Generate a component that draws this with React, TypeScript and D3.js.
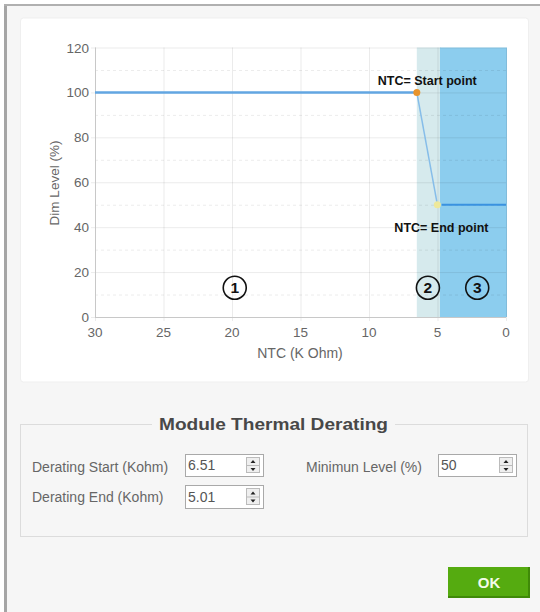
import React from 'react'
import * as d3 from 'd3'

// chart data
const ntcTicks = [30, 25, 20, 15, 10, 5, 0]
const levelTicks = [0, 20, 40, 60, 80, 100, 120]
const levelMinorTicks = [10, 30, 50, 70, 90, 110]
const curveNtc = [30, 6.51, 5.01]
const curveLevel = [100, 100, 50]
const tailNtc = [4.7, 0]
const tailLevel = [50, 50]
const regionFrom = [6.51, 4.82]
const regionTo = [4.82, 0]
const regionColors = ['#d6eaed', '#8ccdee']
const markerLabels = ['1', '2', '3']
const markerNtc = [19.8, 5.7, 2.1]
const markerLevel = [13, 13, 13]

// form data
const formLabels = ['Derating Start (Kohm)', 'Derating End (Kohm)', 'Minimun Level (%)']
const formValues = ['6.51', '5.01', '50']

const font = 'Liberation Sans, Arial, sans-serif'

function Spin({x, y, w, h, value}: {x: number, y: number, w: number, h: number, value: string}) {
  const sx = x + w - 17
  return (
    <g>
      <rect x={x + 0.5} y={y + 0.5} width={w} height={h} fill="#fff" stroke="#a9a9a9" />
      <text x={x + 3} y={y + h / 2 + 5} fontSize={14} fill="#555" fontFamily={font}>{value}</text>
      <rect x={sx + 0.5} y={y + 3.5} width={13} height={h - 7} fill="#efefef" stroke="#bbb" />
      <line x1={sx + 1} x2={sx + 13} y1={y + h / 2 + 0.5} y2={y + h / 2 + 0.5} stroke="#bbb" />
      <path d={`M${sx + 4.5},${y + h / 2 - 2} l2.5,-3 l2.5,3 z`} fill="#222" />
      <path d={`M${sx + 4.5},${y + h / 2 + 3} l2.5,3 l2.5,-3 z`} fill="#222" />
    </g>
  )
}

export default function App() {
  const x = d3.scaleLinear().domain([30, 0]).range([95, 506])
  const y = d3.scaleLinear().domain([0, 120]).range([317, 47.5])
  const curve = d3.line<[number, number]>().x(d => x(d[0])).y(d => y(d[1]))
  const curvePts = curveNtc.map((n, i) => [n, curveLevel[i]] as [number, number])
  const tailPts = tailNtc.map((n, i) => [n, tailLevel[i]] as [number, number])
  const [x0, x1] = x.range()
  const [y0, y1] = y.range()

  return (
    <div>
      <style>{`body{margin:0}`}</style>
      <svg width={540} height={612} style={{display: 'block'}}>
        <rect x={0} y={0} width={540} height={612} fill="#fff" />
        <rect x={4} y={4} width={536} height={608} fill="#f6f6f6" />
        <line x1={5.5} x2={5.5} y1={4} y2={612} stroke="#a5a5a5" strokeWidth={3} />
        <line x1={4} x2={540} y1={5} y2={5} stroke="#b0b0b0" strokeWidth={2} />

        {/* chart panel */}
        <rect x={20.5} y={18} width={508} height={364} fill="#fff" stroke="#efefef" rx={3} />

        {/* regions */}
        {regionFrom.map((r, i) => (
          <rect key={i} x={x(r)} y={y1} width={x(regionTo[i]) - x(r) + 1} height={y0 - y1} fill={regionColors[i]} />
        ))}

        {/* grid */}
        {levelTicks.map(t => (
          <line key={'h' + t} x1={x0 - 4} x2={x1} y1={y(t) + 0.5} y2={y(t) + 0.5} stroke="#000" strokeOpacity={0.08} />
        ))}
        {levelMinorTicks.map(t => (
          <line key={'m' + t} x1={x0} x2={x1} y1={y(t) + 0.5} y2={y(t) + 0.5} stroke="#000" strokeOpacity={0.08} strokeDasharray="3,3" />
        ))}
        {ntcTicks.map(t => (
          <line key={'v' + t} x1={x(t) + 0.5} x2={x(t) + 0.5} y1={y1} y2={y0 + 4} stroke="#000" strokeOpacity={0.08} />
        ))}
        <line x1={x0 + 0.5} x2={x0 + 0.5} y1={y1} y2={y0} stroke="#c8c8c8" />
        <line x1={x0} x2={x1} y1={y0 + 0.5} y2={y0 + 0.5} stroke="#c8c8c8" />

        {/* tick labels */}
        {levelTicks.map(t => (
          <text key={'yl' + t} x={x0 - 6} y={y(t) + 5} textAnchor="end" fontSize={13.5} fill="#666" fontFamily={font}>{t}</text>
        ))}
        {ntcTicks.map(t => (
          <text key={'xl' + t} x={x(t)} y={337} textAnchor="middle" fontSize={13.5} fill="#666" fontFamily={font}>{t}</text>
        ))}
        <text x={300} y={358} textAnchor="middle" fontSize={14} fill="#666" fontFamily={font}>NTC (K Ohm)</text>
        <text transform="translate(59,183) rotate(-90)" textAnchor="middle" fontSize={13.5} fill="#666" fontFamily={font}>Dim Level (%)</text>

        {/* series */}
        <path d={curve(curvePts.slice(0, 2)) || ''} fill="none" stroke="#62a6e2" strokeWidth={2.5} />
        <path d={curve(curvePts.slice(1)) || ''} fill="none" stroke="#86bde9" strokeWidth={1.5} />
        <path d={curve(tailPts) || ''} fill="none" stroke="#3a92e0" strokeWidth={2} />
        <circle cx={x(curveNtc[1])} cy={y(curveLevel[1])} r={3.5} fill="#e8942c" />
        <circle cx={x(curveNtc[2])} cy={y(curveLevel[2])} r={3.5} fill="#eee89a" />
        <text x={x(curveNtc[1]) - 39} y={y(curveLevel[1]) - 7} fontSize={12.5} fontWeight="bold" fill="#111" fontFamily={font}>NTC= Start point</text>
        <text x={x(curveNtc[2]) - 43} y={y(curveLevel[2]) + 27} fontSize={12.5} fontWeight="bold" fill="#111" fontFamily={font}>NTC= End point</text>

        {/* region markers */}
        {markerLabels.map((m, i) => (
          <g key={'mk' + i}>
            <circle cx={x(markerNtc[i])} cy={y(markerLevel[i])} r={11.5} fill="none" stroke="#111" strokeWidth={1.6} />
            <text x={x(markerNtc[i])} y={y(markerLevel[i]) + 5.5} textAnchor="middle" fontSize={15.5} fontWeight="bold" fill="#111" fontFamily={font}>{m}</text>
          </g>
        ))}

        {/* fieldset */}
        <rect x={20.5} y={424.5} width={507} height={112} fill="none" stroke="#dcdcdc" />
        <rect x={152} y={414} width={243} height={20} fill="#f6f6f6" />
        <text x={159} y={430} textLength={229} lengthAdjust="spacingAndGlyphs" fontSize={16} fontWeight="bold" fill="#484848" fontFamily={font}>Module Thermal Derating</text>
        <text x={32} y={471.5} fontSize={14} fill="#666" fontFamily={font}>{formLabels[0]}</text>
        <text x={32} y={502} fontSize={14} fill="#666" fontFamily={font}>{formLabels[1]}</text>
        <text x={306} y={471.5} fontSize={14} fill="#666" fontFamily={font}>{formLabels[2]}</text>
        <Spin x={185} y={454} w={78} h={22} value={formValues[0]} />
        <Spin x={185} y={485} w={78} h={23} value={formValues[1]} />
        <Spin x={438} y={454} w={78} h={22} value={formValues[2]} />

        {/* OK button */}
        <rect x={448} y={567} width={82} height={31} fill="#55ab10" />
        <rect x={448} y={596} width={82} height={2} fill="#3f8a08" />
        <rect x={528} y={567} width={2} height={31} fill="#3f8a08" />
        <text x={489} y={588} textAnchor="middle" fontSize={15} fontWeight="bold" fill="#f2fbe9" fontFamily={font}>OK</text>
      </svg>
    </div>
  )
}
